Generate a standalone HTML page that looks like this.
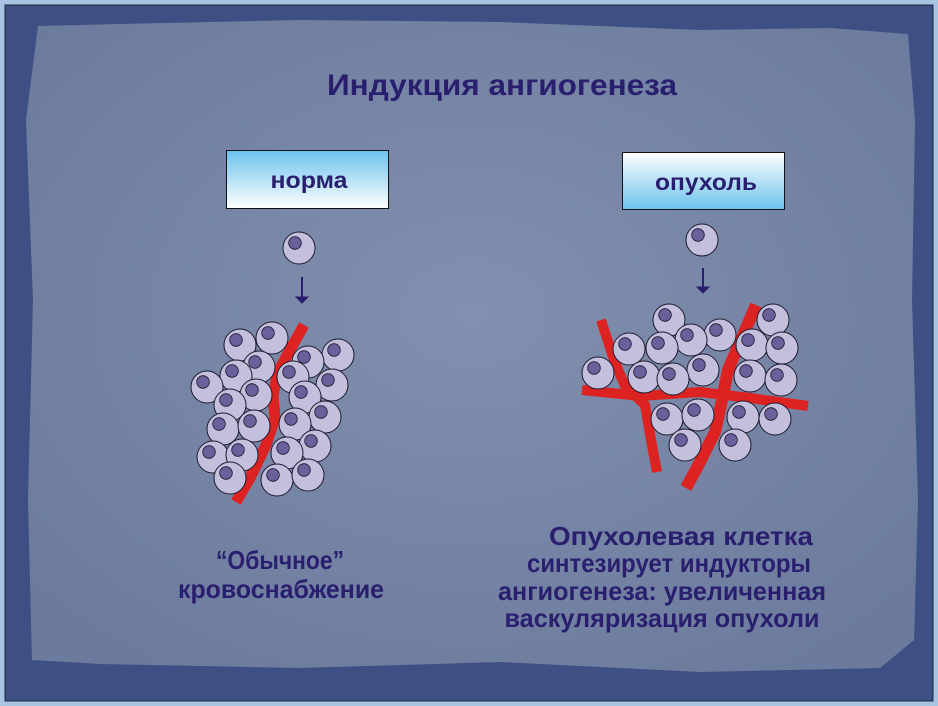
<!DOCTYPE html>
<html><head><meta charset="utf-8"><style>
html,body{margin:0;padding:0;width:938px;height:706px;overflow:hidden;background:#a9c3e3}
.t{font-family:"Liberation Sans",sans-serif;font-weight:bold;fill:#2a1f6e}
</style></head><body>
<svg width="938" height="706" viewBox="0 0 938 706" xmlns="http://www.w3.org/2000/svg">
<defs>
<radialGradient id="bg" cx="50%" cy="45%" r="65%">
<stop offset="0" stop-color="#8190ae"/><stop offset="1" stop-color="#6c7b9d"/></radialGradient>
<linearGradient id="g1" x1="0" y1="0" x2="0" y2="1"><stop offset="0" stop-color="#6cc2ec"/><stop offset="1" stop-color="#ffffff"/></linearGradient>
<linearGradient id="g2" x1="0" y1="0" x2="0" y2="1"><stop offset="0" stop-color="#ffffff"/><stop offset="1" stop-color="#6cc2ec"/></linearGradient>
<g id="c"><circle r="16" fill="#c3bfdd" stroke="#1c1a2c" stroke-width="1"/><circle cx="-4" cy="-5" r="6.3" fill="#6b5f9c" stroke="#1c1a2c" stroke-width="0.8"/></g>
</defs>
<rect x="5" y="5" width="928" height="696" fill="#3e5083" stroke="#1a2440" stroke-width="1"/>
<path d="M38,26 L120,24 L300,20 L500,22 L700,30 L830,28 L908,34 L915,120 L912,300 L918,500 L914,640 L880,668 L700,672 L500,662 L300,668 L100,664 L32,660 L28,500 L33,300 L26,120 Z" fill="url(#bg)"/>
<text x="502" y="95" text-anchor="middle" class="t" font-size="30" textLength="350" lengthAdjust="spacingAndGlyphs">Индукция ангиогенеза</text>
<rect x="226.5" y="150.5" width="162" height="58" fill="url(#g1)" stroke="#111" stroke-width="1"/>
<text x="309" y="188" text-anchor="middle" class="t" font-size="23" textLength="77" lengthAdjust="spacingAndGlyphs">норма</text>
<rect x="622.5" y="152.5" width="162" height="57" fill="url(#g2)" stroke="#111" stroke-width="1"/>
<text x="706" y="190" text-anchor="middle" class="t" font-size="23" textLength="102" lengthAdjust="spacingAndGlyphs">опухоль</text>
<g fill="#2a1f6e" stroke="#2a1f6e"><line x1="302" y1="277" x2="302" y2="298" stroke-width="2"/><path d="M296,297 L308,297 L302,303 Z"/>
<line x1="703" y1="268" x2="703" y2="288" stroke-width="2"/><path d="M697,287 L709,287 L703,293 Z"/></g>
<use href="#c" x="299" y="248"/><use href="#c" x="702" y="240"/>
<path d="M304,325 L290,350 L278,372 L273,395 L275,418 L266,445 L250,478 L236,502" fill="none" stroke="#dd2222" stroke-width="11" stroke-linejoin="round"/>
<g>
<use href="#c" x="240" y="345"/><use href="#c" x="272" y="338"/><use href="#c" x="338" y="355"/><use href="#c" x="308" y="362"/><use href="#c" x="259" y="367"/>
<use href="#c" x="236" y="376"/><use href="#c" x="293" y="377"/><use href="#c" x="207" y="387"/><use href="#c" x="332" y="385"/><use href="#c" x="256" y="395"/>
<use href="#c" x="305" y="397"/><use href="#c" x="230" y="405"/><use href="#c" x="325" y="417"/><use href="#c" x="223" y="429"/><use href="#c" x="254" y="426"/>
<use href="#c" x="295" y="424"/><use href="#c" x="315" y="446"/><use href="#c" x="213" y="457"/><use href="#c" x="242" y="455"/><use href="#c" x="287" y="453"/>
<use href="#c" x="230" y="478"/><use href="#c" x="277" y="480"/><use href="#c" x="308" y="475"/>
</g>
<g fill="none" stroke="#dd2222" stroke-width="10" stroke-linejoin="round">
<path d="M582,390 L640,396 L700,392 L750,398 L808,406"/>
<path d="M601,320 L614,360 L625,386 L645,405 L651,440 L657,472"/>
<path d="M756,305 L741,340 L728,370 L722,400 L715,432 L700,462 L686,488" stroke-width="12"/>
</g>
<g>
<use href="#c" x="669" y="320"/><use href="#c" x="773" y="320"/><use href="#c" x="720" y="335"/><use href="#c" x="691" y="340"/><use href="#c" x="752" y="345"/>
<use href="#c" x="629" y="349"/><use href="#c" x="662" y="348"/><use href="#c" x="782" y="348"/><use href="#c" x="703" y="370"/><use href="#c" x="598" y="373"/>
<use href="#c" x="644" y="377"/><use href="#c" x="673" y="379"/><use href="#c" x="750" y="376"/><use href="#c" x="781" y="380"/>
<use href="#c" x="667" y="419"/><use href="#c" x="698" y="415"/><use href="#c" x="743" y="417"/><use href="#c" x="775" y="419"/>
<use href="#c" x="685" y="445"/><use href="#c" x="735" y="445"/>
</g>
<g class="t" font-size="26" text-anchor="middle">
<text x="280" y="569" textLength="128" lengthAdjust="spacingAndGlyphs">“Обычное”</text>
<text x="281" y="598" textLength="206" lengthAdjust="spacingAndGlyphs">кровоснабжение</text>
<text x="681" y="545" textLength="264" lengthAdjust="spacingAndGlyphs">Опухолевая клетка</text>
<text x="669" y="572" textLength="284" lengthAdjust="spacingAndGlyphs">синтезирует индукторы</text>
<text x="662" y="600" textLength="328" lengthAdjust="spacingAndGlyphs">ангиогенеза: увеличенная</text>
<text x="662" y="627" textLength="315" lengthAdjust="spacingAndGlyphs">васкуляризация опухоли</text>
</g>
</svg>
</body></html>
